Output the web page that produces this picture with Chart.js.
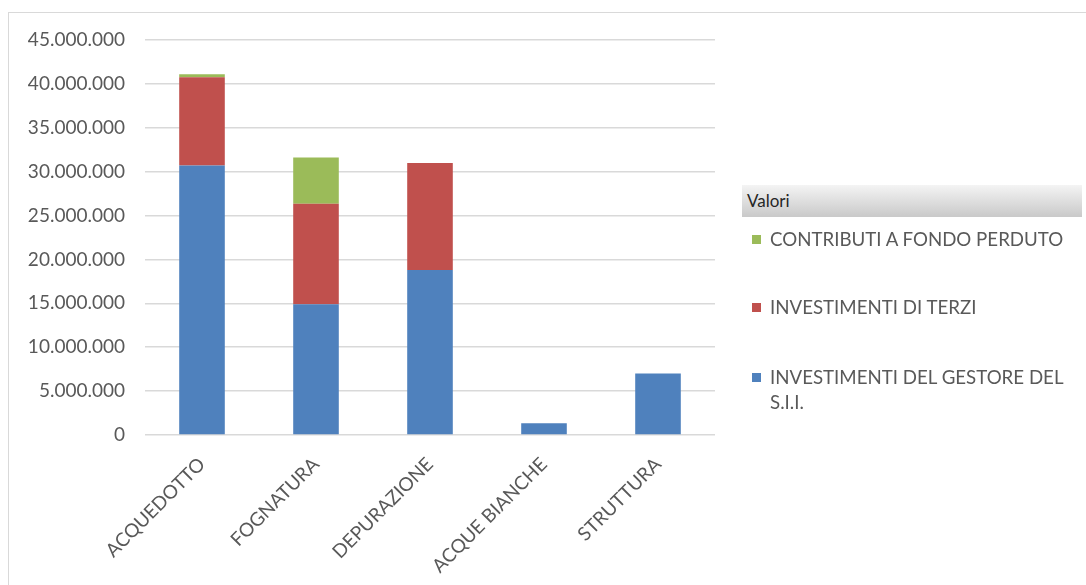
<!DOCTYPE html>
<html lang="it">

<head>
  <meta charset="UTF-8">
  <title>Investimenti per segmento</title>
  <style>
    body {
      margin: 0;
      background: #fff;
      font-family: Lato, 'Open Sans', sans-serif;
      color: #595959;
    }

    .frame {
      position: absolute;
      left: 8px;
      top: 12px;
      width: 1078px;
      height: 573px;
      border-left: 1px solid #d9d9d9;
      border-top: 1px solid #d9d9d9;
    }

    .chart-box {
      position: absolute;
      left: 0;
      top: 0;
      width: 1086px;
      height: 585px;
    }

    .legend {
      position: absolute;
      left: 742px;
      top: 185px;
      width: 340px;
    }

    .legend-title {
      height: 32px;
      line-height: 32px;
      padding-left: 5px;
      font-size: 17px;
      color: #262626;
      background: linear-gradient(#f4f4f4, #c9c9c9);
    }

    .legend-item {
      position: absolute;
      left: 10px;
      font-size: 18.7px;
      line-height: 25px;
      padding-left: 18px;
      white-space: nowrap;
    }

    .legend-item span {
      position: absolute;
      left: 0;
      top: 8px;
      width: 9px;
      height: 9px;
    }
  </style>
  <script src="https://cdn.jsdelivr.net/npm/chart.js"></script>
</head>

<body>
  <div class="frame"></div>
  <div class="chart-box"><canvas id="chart" width="1086" height="585"></canvas></div>
  <div class="legend" id="legend">
    <div class="legend-title">Valori</div>
  </div>

  <script>
    // data
    const categories = ['ACQUEDOTTO', 'FOGNATURA', 'DEPURAZIONE', 'ACQUE BIANCHE', 'STRUTTURA'];
    const gestore = [30700000, 14900000, 18800000, 1350000, 7000000];
    const terzi = [10050000, 11450000, 12200000, 0, 0];
    const contributi = [350000, 5250000, 0, 0, 0];
    const yTicks = [0, 5000000, 10000000, 15000000, 20000000, 25000000, 30000000, 35000000, 40000000, 45000000];

    const seriesNames = ['INVESTIMENTI DEL GESTORE DEL S.I.I.', 'INVESTIMENTI DI TERZI', 'CONTRIBUTI A FONDO PERDUTO'];
    const colors = ['#4f81bd', '#c0504d', '#9bbb59'];

    function formatIt(v) {
      return String(v).replace(/\B(?=(\d{3})+(?!\d))/g, '.');
    }

    const ctx = document.getElementById('chart').getContext('2d');
    const chart = new Chart(ctx, {
      type: 'bar',
      data: {
        labels: categories,
        datasets: [gestore, terzi, contributi].map((d, i) => ({
          label: seriesNames[i],
          data: d,
          backgroundColor: colors[i],
          barPercentage: 0.4,
          categoryPercentage: 1
        }))
      },
      options: {
        responsive: false,
        animation: false,
        layout: {
          padding: { top: 40, right: 371, left: 0, bottom: 0 }
        },
        plugins: {
          legend: { display: false },
          tooltip: { enabled: false }
        },
        scales: {
          x: {
            stacked: true,
            grid: { display: false },
            border: { display: false },
            ticks: {
              color: '#595959',
              font: { family: 'Lato', size: 19 },
              minRotation: 45,
              maxRotation: 45,
              padding: 10
            },
            afterFit: s => { s.height = 150; }
          },
          y: {
            stacked: true,
            min: 0,
            max: 45000000,
            afterBuildTicks: s => { s.ticks = yTicks.map(v => ({ value: v })); },
            grid: { color: '#d9d9d9', lineWidth: 1.5, drawTicks: false },
            border: { display: false },
            ticks: {
              color: '#595959',
              font: { family: 'Lato', size: 19 },
              padding: 20,
              callback: v => formatIt(v)
            },
            afterFit: s => { s.width = 145; }
          }
        }
      }
    });

    // legend on the right, in the reversed order like the picture
    const legend = document.getElementById('legend');
    const itemTops = [42, 110, 180];
    [2, 1, 0].forEach((i, k) => {
      const div = document.createElement('div');
      div.className = 'legend-item';
      div.style.top = itemTops[k] + 'px';
      div.innerHTML = '<span style="background:' + colors[i] + '"></span>' +
        seriesNames[i].replace('GESTORE DEL ', 'GESTORE DEL<br>');
      legend.appendChild(div);
    });
  </script>
</body>

</html>
